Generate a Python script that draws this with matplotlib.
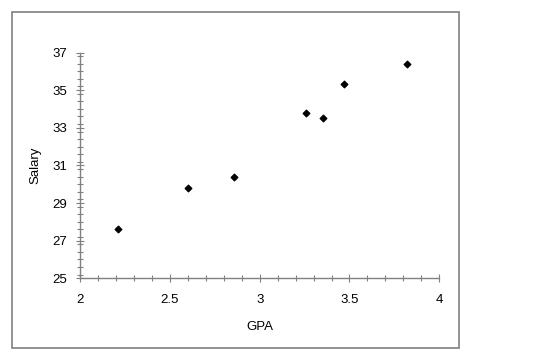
import matplotlib
matplotlib.use("Agg")
import matplotlib.pyplot as plt
from matplotlib.patches import Rectangle
from matplotlib.ticker import MultipleLocator

# DATA
gpa = [2.21, 2.60, 2.86, 3.26, 3.35, 3.47, 3.82]
salary = [27.6, 29.8, 30.4, 33.8, 33.5, 35.3, 36.4]
x_ticks = [2, 2.5, 3, 3.5, 4]
y_ticks = [25, 27, 29, 31, 33, 35, 37]

plt.rcParams["font.family"] = ["Liberation Sans", "DejaVu Sans"]

fig = plt.figure(figsize=(5.42, 3.53), dpi=100)
fig.patch.set_facecolor("white")

# outer frame
fig.patches.append(Rectangle((12 / 542, 1 - 348 / 353), 447 / 542, 336 / 353,
                             transform=fig.transFigure, fill=False,
                             edgecolor="#808080", linewidth=1.2))

ax = fig.add_axes([80 / 542, 1 - 278.3 / 353, 359.3 / 542, 225.8 / 353])
ax.scatter(gpa, salary, marker="D", s=11, color="black", zorder=3)

ax.set_xlim(2, 4)
ax.set_ylim(25, 37)
ax.set_xticks(x_ticks)
ax.set_xticklabels([f"{t:g}" for t in x_ticks])
ax.set_yticks(y_ticks)
ax.xaxis.set_minor_locator(MultipleLocator(0.1))
ax.yaxis.set_minor_locator(MultipleLocator(0.4))

for side in ["top", "right"]:
    ax.spines[side].set_visible(False)
for side in ["left", "bottom"]:
    ax.spines[side].set_color("#808080")
    ax.spines[side].set_linewidth(1)

ax.tick_params(which="major", direction="inout", length=6, width=0.8,
               color="#808080", labelsize=9.5)
ax.tick_params(which="minor", direction="inout", length=4, width=0.8,
               color="#808080")
ax.tick_params(axis="x", which="major", pad=8)
ax.tick_params(axis="y", which="major", pad=6)

ax.set_xlabel("GPA", fontsize=9.5, labelpad=11)
ax.set_ylabel("Salary", fontsize=9.5, labelpad=8)

fig.savefig("out.png", dpi=100)
